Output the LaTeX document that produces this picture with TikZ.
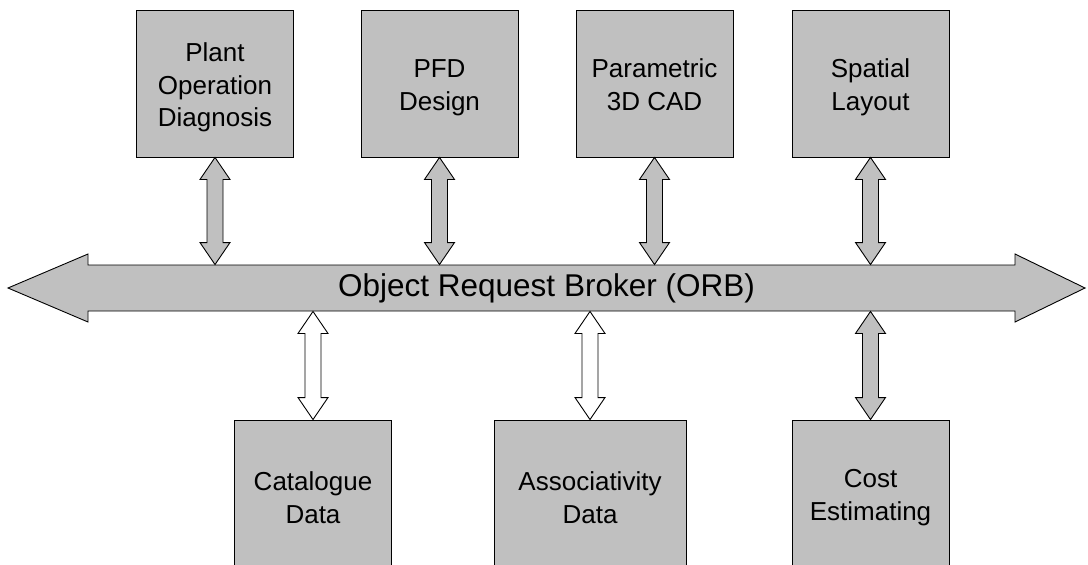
\documentclass[tikz,border=0pt]{standalone}
\usepackage{fontspec}
\setmainfont{Liberation Sans}
\usetikzlibrary{calc}
\definecolor{boxgray}{RGB}{192,192,192}
\newcommand{\vlink}[3]{\draw[fill=#1] (#2) -- ++(15,22) -- ++(-7,0) -- ($(#3)+(8,-22)$) -- ++(7,0) -- (#3) -- ++(-15,-22) -- ++(7,0) -- ($(#2)+(-8,22)$) -- ++(-7,0) -- cycle;}
\newcommand{\boxtext}[1]{\raisebox{-4pt}[\height][\depth]{\begin{tabular}{@{}c@{}}#1\end{tabular}}}

\begin{document}
\begin{tikzpicture}[x=1pt,y=-1pt,line width=0.9pt,
  tool/.style={draw,fill=boxgray,minimum width=157pt,minimum height=147pt,align=center,font=\fontsize{26}{32.5}\selectfont},
  store/.style={tool,minimum height=155pt}]
\useasboundingbox (0,0) rectangle (1088,565);
% the bus
\draw[fill=boxgray] (88,265) -- (1015,265) -- (1015,254) -- (1085,288) -- (1015,322) -- (1015,311) -- (88,311) -- (88,322) -- (8,288) -- (88,254) -- cycle;
\node[minimum width=927pt,minimum height=46pt,inner sep=0pt,font=\fontsize{31.5}{36}\selectfont] (orb) at (546.5,288) {Object Request Broker (ORB)};
% top row
\node[tool] (plant) at (215,83.5) {\boxtext{Plant\\Operation\\Diagnosis}};
\node[tool] (pfd) at (439.5,83.5) {\boxtext{PFD\\Design}};
\node[tool] (cad) at (654.5,83.5) {\boxtext{Parametric\\3D CAD}};
\node[tool] (layout) at (870.5,83.5) {\boxtext{Spatial\\Layout}};
% bottom row
\node[store] (cat) at (313,497.5) {Catalogue\\Data};
\node[store,minimum width=192pt] (assoc) at (590,497.5) {Associativity\\Data};
\node[store] (cost) at (870.5,497.5) {Cost\\Estimating};
% links
\coordinate (b1) at (plant.south |- orb.north);
\coordinate (b2) at (pfd.south |- orb.north);
\coordinate (b3) at (cad.south |- orb.north);
\coordinate (b4) at (layout.south |- orb.north);
\coordinate (c1) at (cat.north |- orb.south);
\coordinate (c2) at (assoc.north |- orb.south);
\coordinate (c3) at (cost.north |- orb.south);
\vlink{boxgray}{plant.south}{b1}
\vlink{boxgray}{pfd.south}{b2}
\vlink{boxgray}{cad.south}{b3}
\vlink{boxgray}{layout.south}{b4}
\vlink{white}{c1}{cat.north}
\vlink{white}{c2}{assoc.north}
\vlink{boxgray}{c3}{cost.north}
\end{tikzpicture}
\end{document}
